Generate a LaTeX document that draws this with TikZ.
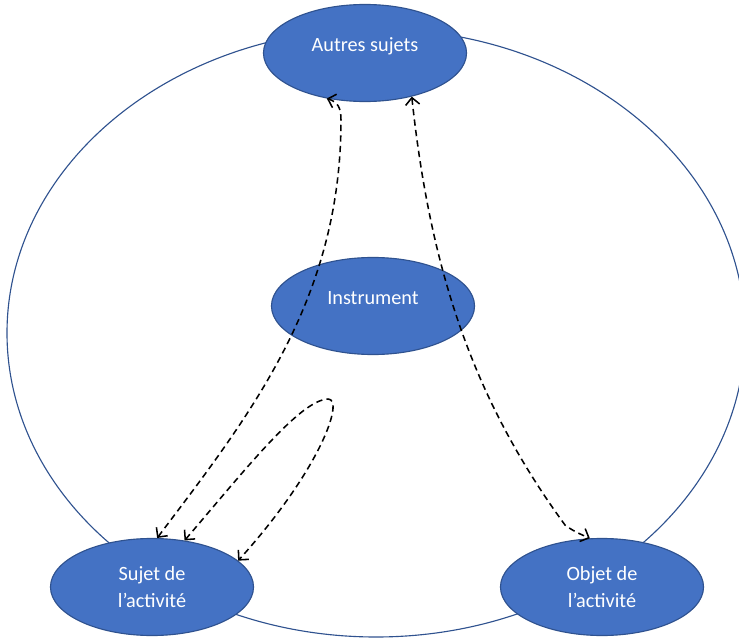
\documentclass[tikz,border=0pt]{standalone}
\usepackage{fontspec}
\setmainfont{Carlito}
\usepackage{tikz}
\usetikzlibrary{positioning, arrows.meta, shapes.geometric}

\definecolor{boxblue}{HTML}{4472C4}
\definecolor{edgeblue}{HTML}{2F528F}

\begin{document}
\begin{tikzpicture}[x=0.025cm, y=-0.025cm,
    pole/.style={ellipse, draw=edgeblue, line width=0.8pt, fill=boxblue,
      minimum width=5.075cm, minimum height=2.425cm, inner sep=0pt,
      text=white, align=center, font=\fontsize{14.4}{19.2}\selectfont},
    raised/.style={text depth=12pt},
    frameline/.style={draw=edgeblue, line width=0.8pt},
    link/.style={black, line width=1.1pt, dash pattern=on 4.5pt off 3pt,
      {Straight Barb[length=5pt, width=10pt]}-{Straight Barb[length=5pt, width=10pt]}}]

      % Fix the page size.
      \useasboundingbox (0,0) rectangle (739,638);
      \clip (0,0) rectangle (739,638);

      % Draw the big ellipse behind the poles.
      \draw[frameline] (376,333) ellipse [x radius=369, y radius=304];

      % Draw the four poles.
      \node[pole, raised] (autres) at (365,53) {Autres sujets};
      \node[pole, raised] (instrument) at (373,306) {Instrument};
      \node[pole] (sujet) at (152,587) {Sujet de\\l’activité};
      \node[pole] (objet) at (602,587) {Objet de\\l’activité};

      % Draw the dashed links.
      \draw[link] (sujet.84) .. controls (250,415) and (341,300) .. (341,120)
        .. controls (341,108) and (338,102) .. (autres.230);
      \draw[link] (autres.-43) .. controls (431,277) and (476,403) .. (565,525)
        .. controls (573,531) and (580,534) .. (objet.104);
      \draw[link] (sujet.55) .. controls (245,470) and (300,400) .. (328,399)
        .. controls (345,399) and (320,470) .. (sujet.17);
    \end{tikzpicture}
\end{document}
